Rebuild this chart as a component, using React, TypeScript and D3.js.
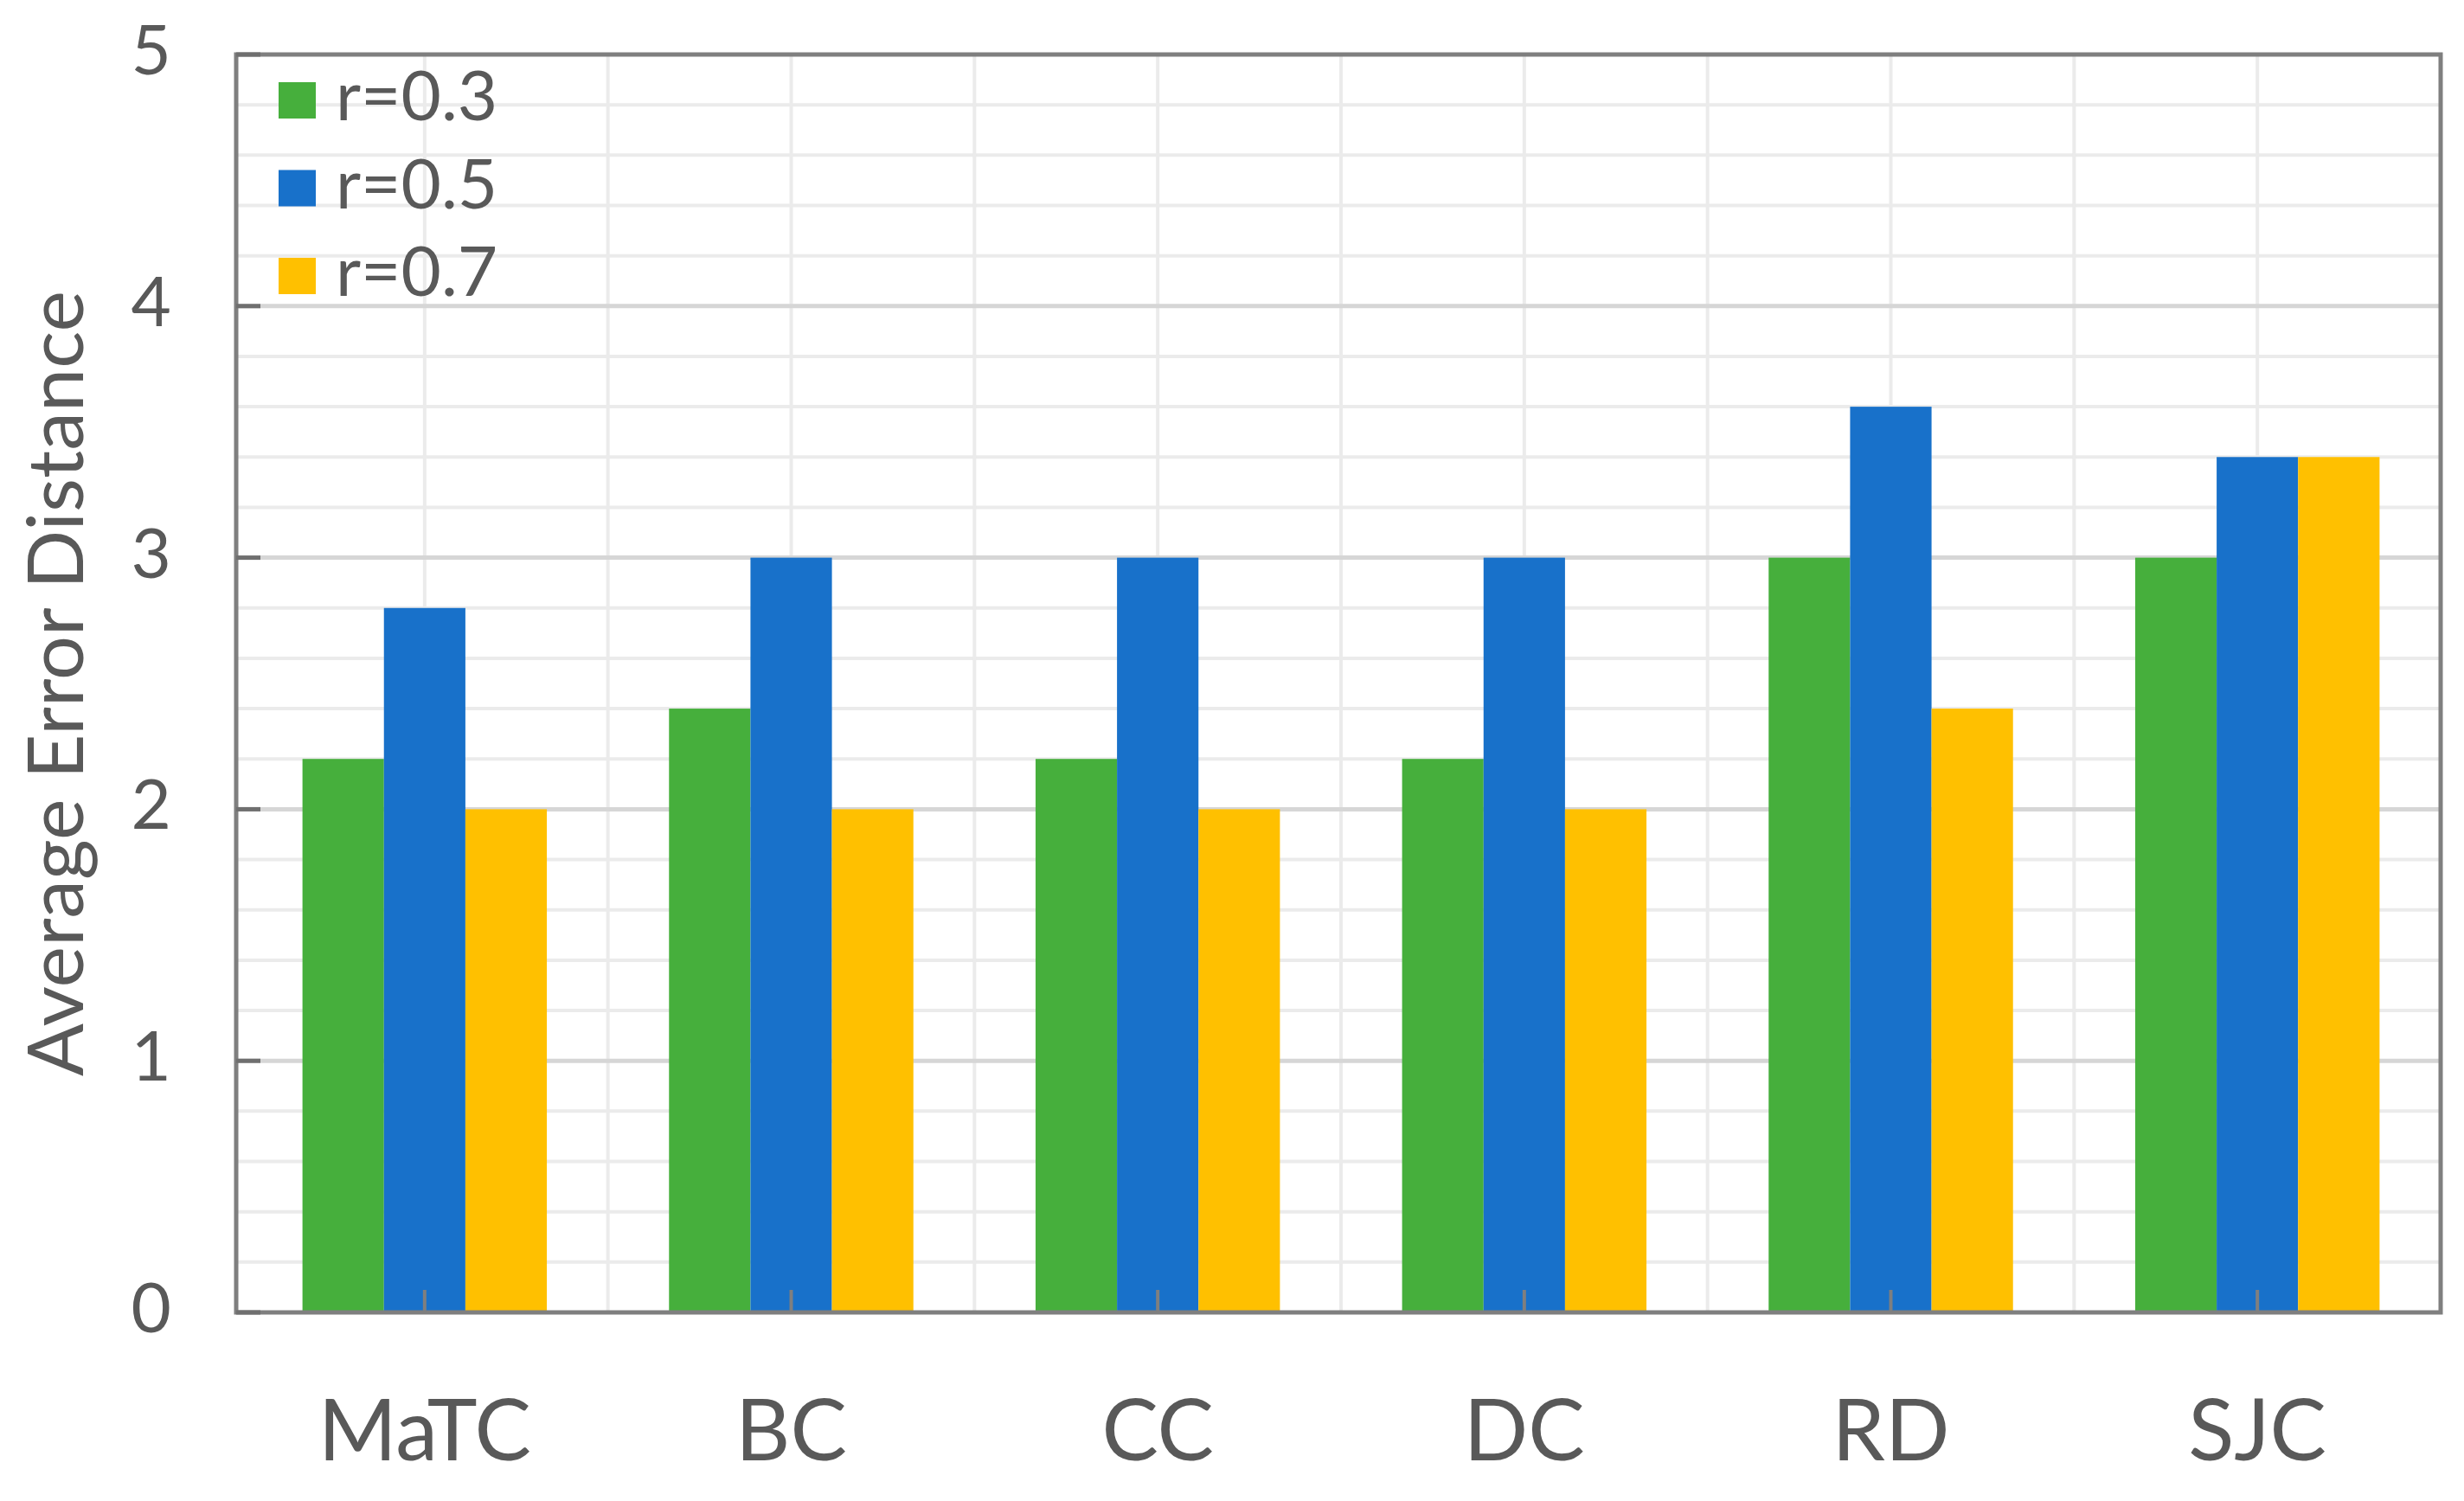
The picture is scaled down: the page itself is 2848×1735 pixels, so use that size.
import React, { useEffect, useRef } from "react";
import * as d3 from "d3";

const categories = ["MaTC", "BC", "CC", "DC", "RD", "SJC"];
const seriesNames = ["r=0.3", "r=0.5", "r=0.7"];
const seriesColors = ["#46AF3C", "#1871CA", "#FFC000"];
const r03 = [2.2, 2.4, 2.2, 2.2, 3.0, 3.0];
const r05 = [2.8, 3.0, 3.0, 3.0, 3.6, 3.4];
const r07 = [2.0, 2.0, 2.0, 2.0, 2.4, 3.4];
const yTicks = [0, 1, 2, 3, 4, 5];

const W = 2848;
const H = 1735;
const FONT = "Lato, 'Open Sans', sans-serif";
const TEXT = "#595959";

export default function App() {
  const ref = useRef<SVGSVGElement>(null);

  useEffect(() => {
    document.body.style.margin = "0";
    const svg = d3.select(ref.current);
    svg.selectAll("*").remove();

    const left = 273, right = 2821, top = 63, bottom = 1517;
    const x = d3.scaleBand<string>().domain(categories).range([279, 2821]).paddingInner(0).paddingOuter(0);
    const y = d3.scaleLinear().domain([0, 5]).range([bottom, top]);
    const groupPad = 0.75; // half of 150% gap in bar units
    const barW = x.bandwidth() / (3 + 2 * groupPad);
    const xs = d3.scaleBand<number>().domain([0, 1, 2]).range([barW * groupPad, x.bandwidth() - barW * groupPad]).padding(0);

    svg.append("rect").attr("width", W).attr("height", H).attr("fill", "#fff");

    // minor horizontal gridlines
    const minor = d3.range(0, 5.0001, 0.2).filter((v) => Math.abs(v - Math.round(v)) > 1e-6);
    svg.append("g").selectAll("line").data(minor).join("line")
      .attr("x1", left).attr("x2", right)
      .attr("y1", (d) => y(d)).attr("y2", (d) => y(d))
      .attr("stroke", "#ebebeb").attr("stroke-width", 4);

    // vertical gridlines at half categories
    const vPos: number[] = [];
    categories.forEach((c, i) => {
      vPos.push(x(c)! + x.bandwidth() / 2);
      if (i > 0) vPos.push(x(c)!);
    });
    svg.append("g").selectAll("line").data(vPos).join("line")
      .attr("x1", (d) => d).attr("x2", (d) => d)
      .attr("y1", top).attr("y2", bottom)
      .attr("stroke", "#ebebeb").attr("stroke-width", 4);

    // major horizontal gridlines
    svg.append("g").selectAll("line").data(yTicks.slice(1, 5)).join("line")
      .attr("x1", left).attr("x2", right)
      .attr("y1", (d) => y(d)).attr("y2", (d) => y(d))
      .attr("stroke", "#d6d6d6").attr("stroke-width", 5);

    // bars
    const series = [r03, r05, r07];
    series.forEach((vals, si) => {
      svg.append("g").selectAll("rect").data(vals).join("rect")
        .attr("x", (_d, i) => x(categories[i])! + xs(si)!)
        .attr("width", xs.bandwidth())
        .attr("y", (d) => y(d))
        .attr("height", (d) => y(0) - y(d))
        .attr("fill", seriesColors[si]);
    });

    // frame
    svg.append("rect")
      .attr("x", left).attr("y", top)
      .attr("width", right - left).attr("height", bottom - top)
      .attr("fill", "none").attr("stroke", "#7f7f7f").attr("stroke-width", 5);

    // y ticks (inward)
    svg.append("g").selectAll("line").data(yTicks).join("line")
      .attr("x1", left).attr("x2", left + 28)
      .attr("y1", (d) => y(d)).attr("y2", (d) => y(d))
      .attr("stroke", "#6f6f6f").attr("stroke-width", 5);

    // x ticks (inward) at category centers
    svg.append("g").selectAll("line").data(categories).join("line")
      .attr("x1", (d) => x(d)! + x.bandwidth() / 2).attr("x2", (d) => x(d)! + x.bandwidth() / 2)
      .attr("y1", bottom).attr("y2", bottom - 26)
      .attr("stroke", "#7f7f7f").attr("stroke-width", 4);

    // y tick labels
    svg.append("g").selectAll("text").data(yTicks).join("text")
      .attr("x", 198).attr("y", (d) => y(d) - 8)
      .attr("text-anchor", "end").attr("dominant-baseline", "central")
      .attr("font-family", FONT).attr("font-size", 80).attr("fill", TEXT)
      .text((d) => String(d));

    // x labels
    svg.append("g").selectAll("text").data(categories).join("text")
      .attr("x", (d) => x(d)! + x.bandwidth() / 2).attr("y", 1688)
      .attr("text-anchor", "middle")
      .attr("font-family", FONT).attr("font-size", 98).attr("fill", TEXT)
      .text((d) => d);

    // y title
    svg.append("text")
      .attr("transform", `translate(96, 790) rotate(-90)`)
      .attr("text-anchor", "middle")
      .attr("font-family", FONT).attr("font-size", 90).attr("fill", TEXT)
      .text("Average Error Distance");

    // legend
    const lg = svg.append("g");
    seriesNames.forEach((n, i) => {
      const cy = 116 + i * 101.5;
      lg.append("rect").attr("x", 322).attr("y", cy - 21).attr("width", 43).attr("height", 42).attr("fill", seriesColors[i]);
      lg.append("text").attr("x", 388).attr("y", cy + 23)
        .attr("font-family", FONT).attr("font-size", 80).attr("fill", TEXT)
        .text(n);
    });
  }, []);

  return <svg ref={ref} width={W} height={H} style={{ display: "block" }} />;
}
